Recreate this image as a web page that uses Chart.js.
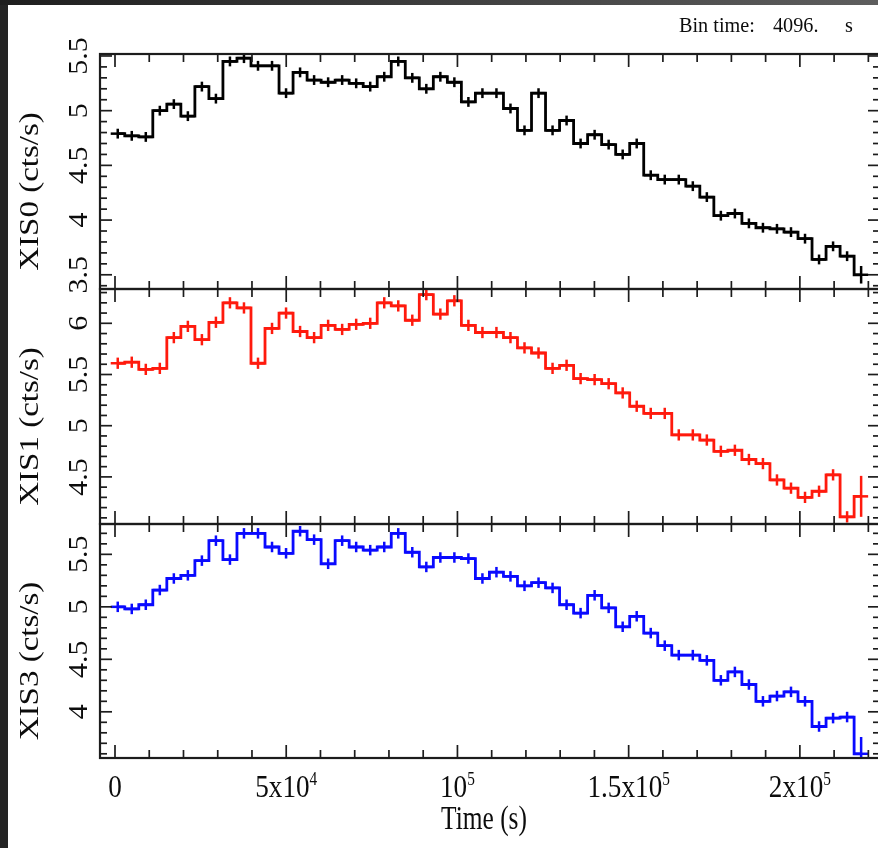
<!DOCTYPE html>
<html lang="en">
<head>
<meta charset="UTF-8">
<title>XIS light curves</title>
<script src="https://cdn.jsdelivr.net/npm/chart.js"></script>
<style>
  html, body { margin: 0; padding: 0; }
  body { width: 878px; height: 848px; overflow: hidden; position: relative; background: #242424; }
  #topband { position: absolute; left: 0; top: 0; width: 878px; height: 5px; background: linear-gradient(to right, #1e1e1e, #5e5e5e); }
  #sheet { position: absolute; left: 8px; top: 5px; right: 0; bottom: 0; background: #fff; }
  canvas { position: absolute; left: 0; top: 0; }
</style>
</head>
<body>
<div id="topband"></div>
<div id="sheet"></div>
<canvas id="xis0" width="884" height="848"></canvas>
<canvas id="xis1" width="884" height="848"></canvas>
<canvas id="xis3" width="884" height="848"></canvas>
<script>
// light curve binning
const BIN_TIME = 4096;
const FIRST_BIN = 800;

// count rates per 4096 s bin (cts/s)
const xis0Rate = [4.79, 4.77, 4.76, 5.00, 5.06, 4.95, 5.22, 5.11, 5.45, 5.48, 5.41, 5.41, 5.16,
  5.35, 5.28, 5.26, 5.28, 5.25, 5.22, 5.31, 5.45, 5.30, 5.20, 5.31, 5.26, 5.08, 5.16, 5.16, 5.02,
  4.82, 5.16, 4.82, 4.91, 4.70, 4.78, 4.69, 4.60, 4.70, 4.41, 4.37, 4.37, 4.31, 4.21, 4.04, 4.06,
  3.97, 3.93, 3.92, 3.89, 3.83, 3.64, 3.76, 3.67, 3.50];
const xis1Rate = [5.61, 5.62, 5.55, 5.56, 5.86, 5.97, 5.84, 6.01, 6.20, 6.15, 5.61, 5.95, 6.10,
  5.92, 5.86, 5.98, 5.94, 5.99, 6.00, 6.20, 6.17, 6.03, 6.28, 6.09, 6.22, 5.98, 5.91, 5.91, 5.86,
  5.76, 5.71, 5.56, 5.59, 5.46, 5.45, 5.41, 5.32, 5.19, 5.12, 5.12, 4.91, 4.91, 4.86, 4.75, 4.76,
  4.67, 4.63, 4.47, 4.39, 4.30, 4.36, 4.52, 4.11, 4.31];
const xis3Rate = [5.00, 4.98, 5.02, 5.16, 5.27, 5.30, 5.44, 5.63, 5.45, 5.70, 5.70, 5.57, 5.51,
  5.72, 5.64, 5.41, 5.63, 5.57, 5.54, 5.57, 5.70, 5.52, 5.38, 5.47, 5.47, 5.46, 5.27, 5.33, 5.29,
  5.20, 5.23, 5.18, 5.02, 4.94, 5.11, 4.99, 4.81, 4.91, 4.75, 4.63, 4.54, 4.54, 4.49, 4.30, 4.38,
  4.26, 4.10, 4.15, 4.19, 4.10, 3.86, 3.94, 3.95, 3.60];

// 1-sigma errors
const xis0Err = [0.045, 0.045, 0.045, 0.045, 0.045, 0.045, 0.045, 0.045, 0.045, 0.045, 0.045, 0.045, 0.045,
  0.045, 0.045, 0.045, 0.045, 0.045, 0.045, 0.045, 0.045, 0.045, 0.045, 0.045, 0.045, 0.045, 0.045, 0.045, 0.045,
  0.045, 0.045, 0.045, 0.045, 0.045, 0.045, 0.045, 0.045, 0.045, 0.045, 0.045, 0.045, 0.045, 0.045, 0.045, 0.045,
  0.045, 0.045, 0.045, 0.045, 0.045, 0.045, 0.045, 0.045, 0.08];
const xis1Err = [0.055, 0.055, 0.055, 0.055, 0.055, 0.055, 0.055, 0.055, 0.055, 0.055, 0.055, 0.055, 0.055,
  0.055, 0.055, 0.055, 0.055, 0.055, 0.055, 0.055, 0.055, 0.055, 0.055, 0.055, 0.055, 0.055, 0.055, 0.055, 0.055,
  0.055, 0.055, 0.055, 0.055, 0.055, 0.055, 0.055, 0.055, 0.055, 0.055, 0.055, 0.055, 0.055, 0.055, 0.055, 0.055,
  0.055, 0.055, 0.055, 0.055, 0.055, 0.055, 0.055, 0.055, 0.20];
const xis3Err = [0.05, 0.05, 0.05, 0.05, 0.05, 0.05, 0.05, 0.05, 0.05, 0.05, 0.05, 0.05, 0.05,
  0.05, 0.05, 0.05, 0.05, 0.05, 0.05, 0.05, 0.05, 0.05, 0.05, 0.05, 0.05, 0.05, 0.05, 0.05, 0.05,
  0.05, 0.05, 0.05, 0.05, 0.05, 0.05, 0.05, 0.05, 0.05, 0.05, 0.05, 0.05, 0.05, 0.05, 0.05, 0.05,
  0.05, 0.05, 0.05, 0.05, 0.05, 0.05, 0.05, 0.05, 0.16];

// axes
const X_RANGE = [-4380, 223400];
const X_TICKS = [0, 50000, 100000, 150000, 200000];
const X_TICK_LABELS = ['0', '5x10^4', '10^5', '1.5x10^5', '2x10^5'];
const XIS0_RANGE = [3.370, 5.518];
const XIS1_RANGE = [4.040, 6.335];
const XIS3_RANGE = [3.560, 5.789];
const XIS0_TICKS = [3.5, 4, 4.5, 5, 5.5];
const XIS1_TICKS = [4.5, 5, 5.5, 6];
const XIS3_TICKS = [4, 4.5, 5, 5.5];

const binTimes = xis0Rate.map((_, i) => FIRST_BIN + i * BIN_TIME);

const SERIF = '"Liberation Serif", "DejaVu Serif", serif';
const INK = '#0c0c0c';

function squeezedText(ctx, str, x, y, size, sx, align) {
  ctx.save();
  ctx.font = size + 'px ' + SERIF;
  ctx.textAlign = align || 'center';
  ctx.textBaseline = 'alphabetic';
  ctx.translate(x, y);
  ctx.scale(sx, 1);
  ctx.fillText(str, 0, 0);
  ctx.restore();
}

function verticalText(ctx, str, x, y, size, sy) {
  ctx.save();
  ctx.font = size + 'px ' + SERIF;
  ctx.textAlign = 'center';
  ctx.textBaseline = 'alphabetic';
  ctx.translate(x, y);
  ctx.rotate(-Math.PI / 2);
  ctx.scale(1, sy);
  ctx.fillText(str, 0, 0);
  ctx.restore();
}

// "5x10^4" -> base text with a superscript exponent, centred on cx
function powerLabel(ctx, label, cx, baseline) {
  const [base, sup] = label.split('^');
  const sx = 0.85;
  ctx.font = '32px ' + SERIF;
  const w1 = ctx.measureText(base).width * sx;
  ctx.font = '18px ' + SERIF;
  const w2 = sup ? ctx.measureText(sup).width * sx : 0;
  const left = cx - (w1 + w2) / 2;
  squeezedText(ctx, base, left, baseline, 32, sx, 'left');
  if (sup) squeezedText(ctx, sup, left + w1, baseline - 12, 18, sx, 'left');
}

function strokeLine(ctx, x1, y1, x2, y2) {
  ctx.beginPath();
  ctx.moveTo(x1, y1);
  ctx.lineTo(x2, y2);
  ctx.stroke();
}

// vertical error bar plus horizontal bin width at each point
const errorCrosses = {
  id: 'errorCrosses',
  afterDatasetsDraw(chart) {
    const { ctx, chartArea: a, scales: { x, y } } = chart;
    const ds = chart.data.datasets[0];
    ctx.save();
    ctx.beginPath();
    ctx.rect(a.left, a.top, a.right - a.left, a.bottom - a.top);
    ctx.clip();
    ctx.strokeStyle = ds.borderColor;
    ctx.lineWidth = 2.5;
    ds.data.forEach((p, i) => {
      const px = x.getPixelForValue(p.x);
      const py = y.getPixelForValue(p.y);
      strokeLine(ctx, px, y.getPixelForValue(p.y + ds.errors[i]), px, y.getPixelForValue(p.y - ds.errors[i]));
      strokeLine(ctx, x.getPixelForValue(p.x - BIN_TIME / 2), py, x.getPixelForValue(p.x + BIN_TIME / 2), py);
    });
    ctx.restore();
  }
};

// panel box, inward ticks and all the text
const panelFrame = {
  id: 'panelFrame',
  afterDraw(chart, args, opts) {
    const { ctx, chartArea: a, scales: { x, y } } = chart;
    ctx.save();
    ctx.strokeStyle = '#1c1c1c';
    ctx.lineWidth = 2.2;
    ctx.strokeRect(a.left, a.top, a.right - a.left, a.bottom - a.top);

    ctx.lineWidth = 1.7;
    for (let k = 0; k * 10000 <= X_RANGE[1]; k++) {
      const px = x.getPixelForValue(k * 10000);
      const len = k % 5 === 0 ? 13 : 8;
      strokeLine(ctx, px, a.top, px, a.top + len);
      strokeLine(ctx, px, a.bottom, px, a.bottom - len);
    }
    const [y0, y1] = opts.range;
    for (let k = Math.ceil(y0 * 10); k <= Math.floor(y1 * 10); k++) {
      const py = y.getPixelForValue(k / 10);
      const len = k % 5 === 0 ? 12 : 7;
      strokeLine(ctx, a.left, py, a.left + len, py);
      strokeLine(ctx, a.right, py, a.right - len, py);
    }

    ctx.fillStyle = INK;
    opts.ticks.forEach(v => verticalText(ctx, String(v), 87, y.getPixelForValue(v), 30, 0.93));
    verticalText(ctx, opts.title, 38, (a.top + a.bottom) / 2 + 20, 33, 0.83);

    if (opts.timeAxis) {
      X_TICKS.forEach((t, i) => powerLabel(ctx, X_TICK_LABELS[i], x.getPixelForValue(t), 797));
      squeezedText(ctx, 'Time (s)', 484, 829, 33, 0.77, 'center');
    }
    if (opts.binLabel) {
      squeezedText(ctx, 'Bin time:', 679, 32, 22, 0.92, 'left');
      squeezedText(ctx, '4096.', 773, 32, 22, 0.92, 'left');
      squeezedText(ctx, 's', 845, 32, 22, 0.92, 'left');
    }
    ctx.restore();
  }
};

const PANELS = [
  { canvas: 'xis0', title: 'XIS0 (cts/s)', rate: xis0Rate, err: xis0Err, color: '#000000',
    range: XIS0_RANGE, ticks: XIS0_TICKS, top: 54, bottom: 289, binLabel: true },
  { canvas: 'xis1', title: 'XIS1 (cts/s)', rate: xis1Rate, err: xis1Err, color: '#ff1a0d',
    range: XIS1_RANGE, ticks: XIS1_TICKS, top: 289, bottom: 524 },
  { canvas: 'xis3', title: 'XIS3 (cts/s)', rate: xis3Rate, err: xis3Err, color: '#0a0aff',
    range: XIS3_RANGE, ticks: XIS3_TICKS, top: 524, bottom: 758, timeAxis: true }
];

PANELS.forEach(p => {
  const canvas = document.getElementById(p.canvas);
  new Chart(canvas, {
    type: 'line',
    data: {
      datasets: [{
        data: binTimes.map((t, i) => ({ x: t, y: p.rate[i] })),
        errors: p.err,
        stepped: 'middle',
        borderColor: p.color,
        borderWidth: 2.8,
        pointRadius: 0,
        fill: false
      }]
    },
    options: {
      responsive: false,
      animation: false,
      devicePixelRatio: 1,
      layout: { padding: { left: 100, right: canvas.width - 880, top: p.top, bottom: canvas.height - p.bottom } },
      plugins: {
        legend: { display: false },
        tooltip: { enabled: false },
        panelFrame: { range: p.range, ticks: p.ticks, title: p.title, timeAxis: !!p.timeAxis, binLabel: !!p.binLabel }
      },
      scales: {
        x: { type: 'linear', min: X_RANGE[0], max: X_RANGE[1], display: false },
        y: { type: 'linear', min: p.range[0], max: p.range[1], display: false }
      }
    },
    plugins: [errorCrosses, panelFrame]
  });
});
</script>
</body>
</html>
